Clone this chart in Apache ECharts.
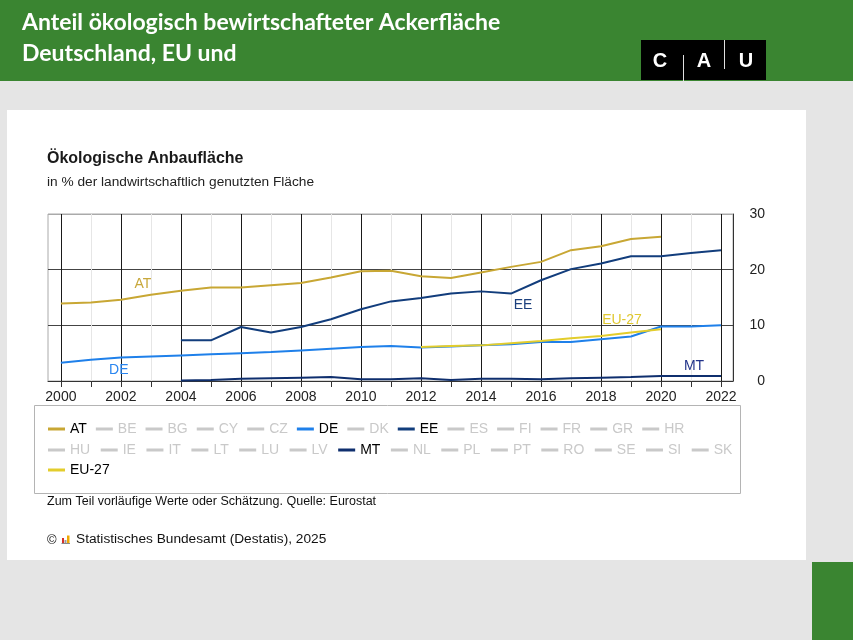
<!DOCTYPE html>
<html><head><meta charset="utf-8">
<script src="https://cdn.jsdelivr.net/npm/echarts@6/dist/echarts.min.js"></script>
<style>html,body{margin:0;padding:0;background:#e5e5e5}#c{width:853px;height:640px}</style>
</head><body><div id="c"></div>
<script>
const years = [2000,2001,2002,2003,2004,2005,2006,2007,2008,2009,2010,2011,2012,2013,2014,2015,2016,2017,2018,2019,2020,2021,2022];
const yearLabels = [2000,2002,2004,2006,2008,2010,2012,2014,2016,2018,2020,2022];
const yTicks = [0,10,20,30];
const AT   = [13.9,14.1,14.6,15.5,16.2,16.8,16.8,17.2,17.6,18.6,19.7,19.8,18.8,18.5,19.5,20.5,21.4,23.5,24.2,25.5,25.9,null,null];
const DE   = [3.3,3.8,4.2,4.4,4.6,4.8,5.0,5.2,5.5,5.8,6.1,6.3,6.0,6.2,6.4,6.6,7.0,7.0,7.5,8.0,9.8,9.8,10.0];
const EE   = [null,null,null,null,7.3,7.3,9.7,8.7,9.7,11.1,12.9,14.3,14.9,15.7,16.1,15.7,18.1,20.1,21.1,22.4,22.4,23.0,23.5];
const MT   = [null,null,null,null,0.1,0.2,0.4,0.5,0.6,0.7,0.3,0.3,0.5,0.2,0.4,0.4,0.3,0.5,0.6,0.7,0.9,0.9,0.9];
const EU27 = [null,null,null,null,null,null,null,null,null,null,null,null,6.1,6.3,6.4,6.8,7.2,7.7,8.1,8.7,9.3,null,null];
const legendRow1 = ['AT','BE','BG','CY','CZ','DE','DK','EE','ES','FI','FR','GR','HR'];
const legendRow2 = ['HU','IE','IT','LT','LU','LV','MT','NL','PL','PT','RO','SE','SI','SK'];
const legendRow3 = ['EU-27'];
const activeSeries = ['AT','DE','EE','MT','EU-27'];

const FF = "'Liberation Sans', Arial, sans-serif";
const colors = {AT:'#c8a734', DE:'#1f80ea', EE:'#123d7c', MT:'#0f2f6e', 'EU-27':'#e3cd2c'};
const valuesBy = {AT:AT, DE:DE, EE:EE, MT:MT, 'EU-27':EU27};
const labelSpec = {
  AT:{coord:[2002.73,17.4], color:'#c8a83c'},
  DE:{coord:[2001.93,1.9], color:'#2a86f0'},
  EE:{coord:[2015.4,13.6], color:'#1b3f7d'},
  'EU-27':{coord:[2018.7,10.9], color:'#e0c830'},
  MT:{coord:[2021.1,2.6], color:'#22338a'}
};
function pairs(vals){ return years.map((y,i)=>[y, vals[i]]); }

const allNames = legendRow1.concat(legendRow2, legendRow3);
const selected = {};
allNames.forEach(n => selected[n] = activeSeries.indexOf(n) >= 0);

const order = ['AT','BE','BG','CY','CZ','DE','DK','EE','ES','FI','FR','GR','HR','HU','IE','IT','LT','LU','LV','MT','NL','PL','PT','RO','SE','SI','SK','EU-27'];
const series = order.map(n => {
  if (!valuesBy[n]) return {name:n, type:'line', data:[], itemStyle:{color:'#cccccc'}};
  const c = colors[n];
  return {
    name:n, type:'line', data:pairs(valuesBy[n]), showSymbol:false, symbol:'none',
    connectNulls:false, silent:true,
    lineStyle:{width:2, color:c}, itemStyle:{color:c},
    markPoint:{symbol:'circle', symbolSize:0, silent:true,
      data:[{coord:labelSpec[n].coord, value:n}],
      label:{show:true, position:'inside', formatter:n, color:labelSpec[n].color, fontSize:14, fontFamily:FF}}
  };
});

const legendTops = [422, 443, 463];
const legendGaps = [9, 10.5, 9];
const legends = [legendRow1, legendRow2, legendRow3].map((d,i) => ({
  data:d, left:48, top:legendTops[i], padding:0, orient:'horizontal',
  icon:'rect', itemWidth:17, itemHeight:3, itemGap:legendGaps[i],
  selected:selected, inactiveColor:'#c9c9c9',
  textStyle:{fontSize:14, color:'#000', fontFamily:FF}
}));

const txt = (x,y,text,font,fill,extra) => Object.assign({type:'text', z:100, style:Object.assign({x:x, y:y, text:text, font:font, fill:fill, verticalAlign:'middle'}, extra||{})});
const rect = (x,y,w,h,fill,z) => ({type:'rect', z:(z===undefined?-100:z), shape:{x:x,y:y,width:w,height:h}, style:{fill:fill}});

const graphic = [
  rect(0,0,853,81,'#3a8531'),
  rect(7,110,799,450,'#ffffff'),
  rect(812,562,41,78,'#3a8531'),
  rect(641,40,125,40,'#000000', 50),
  {type:'line', z:60, shape:{x1:683.5,y1:55,x2:683.5,y2:81}, style:{stroke:'#e0e0e0', lineWidth:1}},
  {type:'line', z:60, shape:{x1:724.5,y1:40,x2:724.5,y2:69}, style:{stroke:'#e0e0e0', lineWidth:1}},
  txt(660,61,'C',"bold 20px "+FF,'#ffffff',{align:'center'}),
  txt(704,61,'A',"bold 20px "+FF,'#ffffff',{align:'center'}),
  txt(746,61,'U',"bold 20px "+FF,'#ffffff',{align:'center'}),
  txt(22,23,'Anteil ökologisch bewirtschafteter Ackerfläche',"bold 23px Lato, sans-serif",'#ffffff'),
  txt(22,54,'Deutschland, EU und',"bold 23px Lato, sans-serif",'#ffffff'),
  txt(47,158.5,'Ökologische Anbaufläche',"bold 16px "+FF,'#1a1a1a'),
  txt(47,182,'in % der landwirtschaftlich genutzten Fläche',"13.7px "+FF,'#222222'),
  {type:'rect', z:5, shape:{x:34.5,y:405.5,width:706,height:88}, style:{fill:null, stroke:'#b4b4b4', lineWidth:1}},
  txt(47,502,'Zum Teil vorläufige Werte oder Schätzung. Quelle: Eurostat',"12.5px "+FF,'#111111'),
  txt(47,540,'©',"13px "+FF,'#111111'),
  rect(62,538,2,5,'#d6312b',100),
  rect(64.5,540,2,3,'#9a9a9a',100),
  rect(67,535.5,2.5,7.5,'#f0a800',100),
  rect(61.5,543,8.5,1,'#888888',100),
  txt(76,539.5,'Statistisches Bundesamt (Destatis), 2025',"13.7px "+FF,'#111111')
];

const chart = echarts.init(document.getElementById('c'), null, {renderer:'canvas'});
chart.setOption({
  backgroundColor:'#e5e5e5',
  animation:false,
  textStyle:{fontFamily:FF},
  graphic:graphic,
  legend:legends,
  grid:{left:48, right:120, top:214, bottom:259, show:true, borderColor:'#aaaaaa', borderWidth:1, backgroundColor:'transparent'},
  xAxis:{
    type:'value', min:1999.57, max:2022.4,
    axisLine:{show:true, onZero:false, lineStyle:{color:'#333333', width:1}},
    axisTick:{show:true, customValues:years, length:6, lineStyle:{color:'#333333'}},
    axisLabel:{customValues:yearLabels, margin:9, fontSize:14, color:'#222222', fontFamily:FF, formatter:v => String(v)},
    splitLine:{show:true, lineStyle:{color:['#1a1a1a','#e6e6e6'], width:1}}
  },
  yAxis:{
    type:'value', position:'right', min:yTicks[0], max:yTicks[yTicks.length-1], interval:10,
    axisLine:{show:true, lineStyle:{color:'#333333'}},
    axisTick:{show:false},
    axisLabel:{align:'right', margin:32, fontSize:14, color:'#222222', fontFamily:FF},
    splitLine:{show:true, lineStyle:{color:['#444444','#444444','#444444','#aaaaaa'], width:1}}
  },
  series:series
});
</script></body></html>
